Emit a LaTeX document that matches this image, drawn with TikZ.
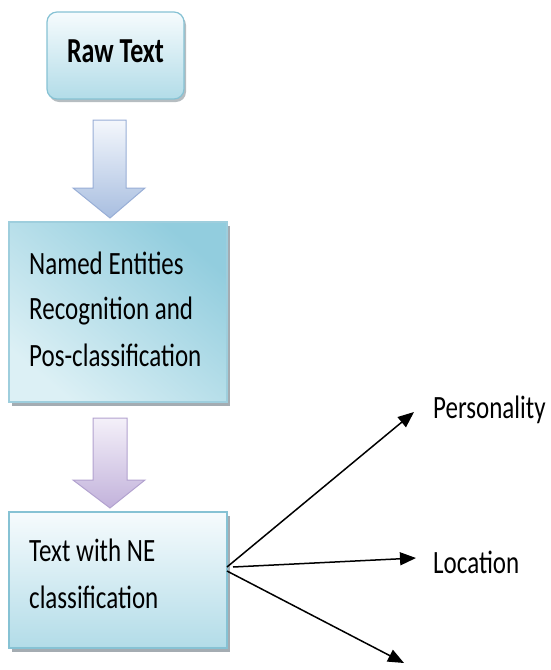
\documentclass[tikz,border=0pt]{standalone}
\usepackage{fontspec}
\setmainfont{Carlito}
\usepackage{graphicx}
\usetikzlibrary{arrows.meta,calc}
\definecolor{rawtop}{HTML}{F6FBFD}
\definecolor{rawbot}{HTML}{B2DCE8}
\definecolor{rawbd}{HTML}{86C2D4}
\definecolor{blutop}{HTML}{F4F7FC}
\definecolor{blubot}{HTML}{A8BEE0}
\definecolor{blubd}{HTML}{98AED6}
\definecolor{nerl}{HTML}{DCF0F5}
\definecolor{nerr}{HTML}{92CDDE}
\definecolor{purtop}{HTML}{F4F0F9}
\definecolor{purbot}{HTML}{C2B2DB}
\definecolor{purbd}{HTML}{B2A2CF}
\definecolor{shad}{HTML}{A4ACB2}
\newcommand{\tx}[1]{\scalebox{1}[1.3]{\fontsize{25}{35.4}\selectfont\begin{tabular}{@{}l@{}}#1\end{tabular}}}
\newcommand{\txb}[1]{\scalebox{1}[1.35]{\fontsize{26}{30}\selectfont #1}}
\tikzset{
  boxshape/.style={draw=rawbd, line width=1.2pt, inner sep=0pt, minimum width=#1},
  lbl/.style={anchor=base west, inner sep=0pt},
  outarrow/.style={line width=1.5pt, -{Triangle[length=16pt,width=13pt]}},
}
\begin{document}
\begin{tikzpicture}[x=1pt,y=-1pt]
\useasboundingbox (0,0) rectangle (550,670);
% Raw Text box
\fill[shad!80, rounded corners=10pt] (49,15) rectangle (186,102);
\node[boxshape=137pt, minimum height=87pt, rounded corners=10pt, top color=rawtop, bottom color=rawbot] (raw) at (115.5,55.5) {};
\node[inner sep=0pt] (rawt) at (115.5,51) {\txb{\textbf{Raw Text}}};
% Blue block arrow
\draw[draw=blubd, line width=1pt, top color=blutop, bottom color=blubot]
  (93,120) -- (126,120) -- (126,188) -- (145,188) -- (110,218) -- (73,188) -- (93,188) -- cycle;
% NER box
\fill[shad] (12,226) rectangle (230,406);
\node[boxshape=218pt, minimum height=180pt, top color=nerr, bottom color=nerl, shading angle=-40, draw=rawbd!80] (ner) at (118,312) {};
\node[lbl] (nert) at (29,273) {\tx{Named Entities}};
\node[lbl] at (29,318) {\tx{Recognition and}};
\node[lbl] at (29,365) {\tx{Pos-classification}};
% Purple block arrow
\draw[draw=purbd, line width=1pt, top color=purtop, bottom color=purbot]
  (93,418) -- (127,418) -- (127,480) -- (145,480) -- (110,508) -- (73,480) -- (93,480) -- cycle;
% Text with NE box
\fill[shad] (12,516) rectangle (230,652);
\node[boxshape=218pt, minimum height=136pt, top color=rawtop, bottom color=rawbot] (tne) at (118,580) {};
\node[lbl] (tnet) at (29,560) {\tx{Text with NE}};
\node[lbl] at (29,607) {\tx{classification}};
% Output labels
\node[lbl] (pers) at (433,417) {\tx{Personality}};
\node[lbl] (loc) at (433,572) {\tx{Location}};
\node[lbl] (oth) at (454,673) {\tx{...}};
% Connectors
\coordinate (o1) at (227,567);
\coordinate (o2) at (233,567);
\coordinate (o3) at (227,571);
\coordinate (p1) at (414,412);
\coordinate (p2) at (416,558);
\coordinate (p3) at (404,663);
\draw[outarrow] (o1) -- (p1);
\draw[outarrow] (o2) -- (p2);
\draw[outarrow] (o3) -- (p3);
\end{tikzpicture}
\end{document}
